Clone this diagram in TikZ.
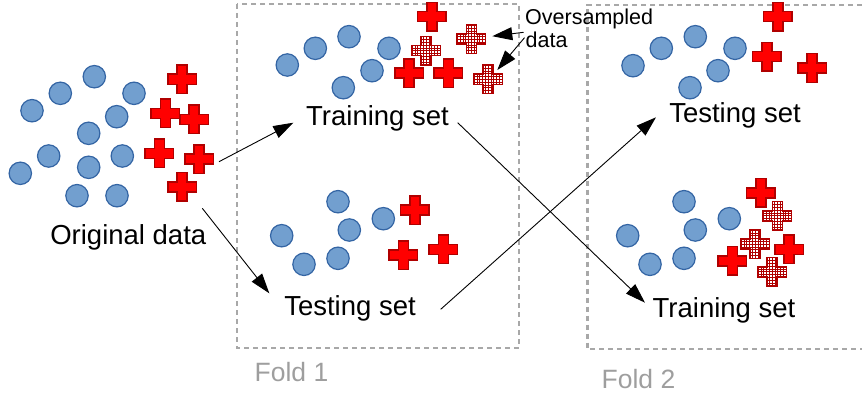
\documentclass[tikz,border=0pt]{standalone}
\usepackage{fontspec}
\setmainfont{Liberation Sans}
\usetikzlibrary{arrows.meta}
\definecolor{cfill}{HTML}{729FCF}
\definecolor{cline}{HTML}{3465A4}
\definecolor{xred}{HTML}{FF0000}
\definecolor{xdark}{HTML}{B00000}
\definecolor{foldgray}{HTML}{A8A8A8}
\definecolor{labelgray}{HTML}{9E9E9E}
\newcommand\bigtext{\fontsize{27.5}{33}\selectfont}
\newcommand\smalltext{\fontsize{21.5}{23}\selectfont}
\newcommand\foldtext{\fontsize{26.5}{30}\selectfont}
\tikzset{
  dot/.style={circle, draw=cline, fill=cfill, line width=1.2pt, minimum size=22.4pt, inner sep=0pt},
  label text/.style={inner sep=0pt, anchor=base, text=black, font=\bigtext},
  foldbox/.style={draw=foldgray, line width=2.2pt, dash pattern=on 5pt off 4pt},
  arr/.style={-{Triangle[length=20pt,width=13pt]}, line width=0.9pt, black},
  rcross/.pic={
    \draw[xdark, fill=xred, line width=1.6pt] (-5,-14.3) -- (5,-14.3) -- (5,-5) -- (14.3,-5) -- (14.3,5) -- (5,5) -- (5,14.3) -- (-5,14.3) -- (-5,5) -- (-14.3,5) -- (-14.3,-5) -- (-5,-5) -- cycle;
  },
  hcross/.pic={
    \draw[xdark, fill=white, line width=1.6pt,
      path picture={\draw[xdark, line width=0.5pt] (-16.5pt,-16.5pt) grid[step=2.8pt] (16.5pt,16.5pt);}]
      (-5,-14.3) -- (5,-14.3) -- (5,-5) -- (14.3,-5) -- (14.3,5) -- (5,5) -- (5,14.3) -- (-5,14.3) -- (-5,5) -- (-14.3,5) -- (-14.3,-5) -- (-5,-5) -- cycle;
  }
}
\begin{document}
\begin{tikzpicture}[x=1pt, y=-1pt]
\path[use as bounding box] (0,0) rectangle (862,396);

% fold boxes
\draw[foldbox] (237,4) rectangle (519,348);
\draw[foldbox] (862,5) -- (587.5,5) -- (587.5,349) -- (862,349);
\node[inner sep=0pt, anchor=base, text=labelgray, font=\foldtext] (fold1) at (291.5,381.5) {Fold 1};
\node[inner sep=0pt, anchor=base, text=labelgray, font=\foldtext] (fold2) at (638.5,388.5) {Fold 2};

% original data
\foreach \n/\x/\y in {1/94.3/76.7, 2/60.3/93.3, 3/134/93.3, 4/32/110.7, 5/116.7/116.7, 6/88.7/133.3,
  7/48.7/156, 8/88.7/167.3, 9/122.3/156, 10/20.3/173.3, 11/77/195.7, 12/117/195.7}
  \node[dot] (o\n) at (\x,\y) {};
\foreach \x/\y in {182/79.3, 165.3/113.3, 194/119.3, 159.3/153.3, 199/159, 182/186.7}
  \pic at (\x,\y) {rcross};
\node[label text] (orig) at (128.3,244.5) {Original data};

% fold 1 training
\foreach \n/\x/\y in {1/287.3/65, 2/315.3/48.3, 3/349/36.7, 4/389/48.3, 5/372/70.7, 6/343.3/87.7}
  \node[dot] (a\n) at (\x,\y) {};
\pic at (431.7,16.7) {rcross};
\pic at (409,73.3) {rcross};
\pic at (448.3,73.3) {rcross};
\pic at (426,50.7) {hcross};
\pic at (471.3,39.3) {hcross};
\pic at (488,79.3) {hcross};
\node[label text] (train1) at (377.5,125) {Training set};

% oversampled label
\node[inner sep=0pt, anchor=base west, font=\smalltext] (over) at (525,25) {Oversampled};
\node[inner sep=0pt, anchor=base west, font=\smalltext] (overdata) at (525.5,48) {data};
\coordinate (ov1s) at (523.5,32.3);
\coordinate (ov1e) at (492.3,36.2);
\coordinate (ov2s) at (524.5,37.7);
\coordinate (ov2e) at (497.3,70);
\draw[arr] (ov1s) -- (ov1e);
\draw[arr] (ov2s) -- (ov2e);

% fold 1 testing
\foreach \n/\x/\y in {1/281.7/235.7, 2/304/264.3, 3/338/201.7, 4/349.3/230, 5/338/258.3, 6/383.3/218.7}
  \node[dot] (b\n) at (\x,\y) {};
\pic at (414.7,210) {rcross};
\pic at (403.3,255) {rcross};
\pic at (443.3,249.3) {rcross};
\node[label text] (test1) at (350,315) {Testing set};

% fold 2 testing
\foreach \n/\x/\y in {1/633/65.7, 2/661.3/48.3, 3/695.3/36.7, 4/735/48.3, 5/718/70.7, 6/690/87.7}
  \node[dot] (c\n) at (\x,\y) {};
\pic at (777.7,16.7) {rcross};
\pic at (766.7,56.7) {rcross};
\pic at (812,68) {rcross};
\node[label text] (test2) at (735,122.7) {Testing set};

% fold 2 training
\foreach \n/\x/\y in {1/627.7/235.7, 2/650/264.3, 3/684/201.7, 4/695.3/230, 5/684/258.3, 6/729.3/218.7}
  \node[dot] (d\n) at (\x,\y) {};
\pic at (760.7,192.7) {rcross};
\pic at (789,249.3) {rcross};
\pic at (732.3,260.7) {rcross};
\pic at (777.3,215.7) {hcross};
\pic at (755,244) {hcross};
\pic at (772,271.7) {hcross};
\node[label text] (train2) at (724,317.3) {Training set};

% connectors
\coordinate (origout1) at (219,161.7);
\coordinate (origout2) at (202.3,208.3);
\coordinate (train1in) at (293.3,122.7);
\coordinate (test1in) at (269.3,293.3);
\coordinate (train1out) at (457.7,122.7);
\coordinate (train2in) at (645,302.7);
\coordinate (test1out) at (440.7,309.3);
\coordinate (test2in) at (656,117.3);
\draw[arr] (origout1) -- (train1in);
\draw[arr] (origout2) -- (test1in);
\draw[arr] (train1out) -- (train2in);
\draw[arr] (test1out) -- (test2in);
\end{tikzpicture}
\end{document}
